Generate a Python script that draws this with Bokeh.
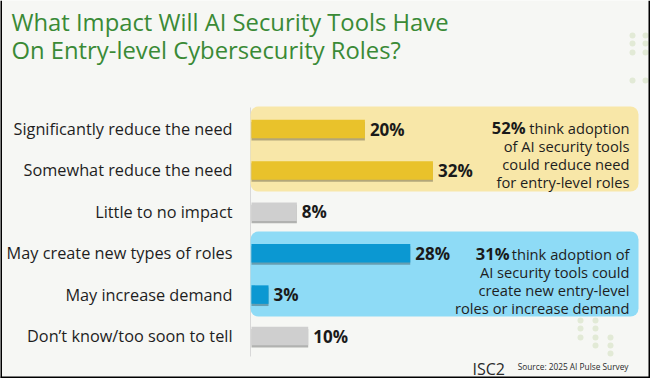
from bokeh.plotting import figure
from bokeh.models import Range1d, BoxAnnotation, ColumnDataSource
from bokeh.core.properties import value
from bokeh.embed import file_html
from bokeh.resources import INLINE

# ---- data ----
categories = [
    "Significantly reduce the need",
    "Somewhat reduce the need",
    "Little to no impact",
    "May create new types of roles",
    "May increase demand",
    "Don\u2019t know/too soon to tell",
]
percent = [20, 32, 8, 28, 3, 10]
groups = ["reduce", "reduce", "neutral", "increase", "increase", "neutral"]
title_lines = ["What Impact Will AI Security Tools Have", "On Entry-level Cybersecurity Roles?"]
reduce_total = "52%"
reduce_text = ["think adoption", "of AI security tools", "could reduce need", "for entry-level roles"]
increase_total = "31%"
increase_text = ["think adoption of", "AI security tools could", "create new entry-level", "roles or increase demand"]
source_text = "Source: 2025 AI Pulse Survey"
brand = "ISC2"

# ---- styling / layout ----
W, H = 650, 378
PX_PER_PCT = 5.67
X0_PX = 251          # pixel of 0% in figure
ROW_PX = 41.4
ROW0_PX = 128.5      # pixel of first row center from top
FONT = "Open Sans"
colors = {"reduce": "#e9c22b", "neutral": "#cfcfcf", "increase": "#0b98d2"}

x_start = -X0_PX / PX_PER_PCT
x_end = (W - X0_PX) / PX_PER_PCT
y_top = -ROW0_PX / ROW_PX
y_bottom = (H - ROW0_PX) / ROW_PX

def px_x(px):
    return x_start + px / PX_PER_PCT

def px_y(px):
    return y_top + px / ROW_PX

p = figure(width=W, height=H, output_backend="svg", toolbar_location=None,
           x_range=Range1d(x_start, x_end), y_range=Range1d(y_bottom, y_top),
           min_border=0, background_fill_color="#f6f7f4", border_fill_color="#f6f7f4")
p.axis.visible = False
p.grid.visible = False
p.outline_line_color = None

rows = list(range(len(categories)))

# faint decorative dots (background ornament)
deco_x = [632, 645, 632, 645, 632, 645, 632, 645, 580, 595, 580, 595, 580, 595, 610, 610, 595, 610]
deco_y = [35, 35, 43, 43, 52, 52, 80, 80, 320, 320, 328, 328, 337, 337, 337, 345, 345, 353]
p.scatter(x=[px_x(v) for v in deco_x], y=[px_y(v) for v in deco_y], size=6,
          fill_color="#e2ead6", line_color=None, level="underlay")

# vertical base line
p.segment(x0=[px_x(250)], y0=[px_y(107)], x1=[px_x(250)], y1=[px_y(356)],
          line_color="#d8d8d8", line_width=1, level="underlay")

# highlight boxes
box_left = px_x(250)
box_right = px_x(638)
p.add_layout(BoxAnnotation(left=box_left, right=box_right, top=px_y(106), bottom=px_y(191),
                           fill_color="#f8e7a8", fill_alpha=1, line_color=None,
                           border_radius=8, level="underlay"))
p.add_layout(BoxAnnotation(left=box_left, right=box_right, top=px_y(231), bottom=px_y(316),
                           fill_color="#8edbf6", fill_alpha=1, line_color=None,
                           border_radius=8, level="underlay"))

src = ColumnDataSource(dict(
    y=rows, ys=[r + 2.2 / ROW_PX for r in rows], v=percent,
    c=[colors[g] for g in groups], cat=categories,
    lab=[f"{v}%" for v in percent],
))

bar_h = 18.5 / ROW_PX
# shadow
p.hbar(y="ys", right="v", left=0, height=bar_h, source=src, fill_color="#000000",
       fill_alpha=0.28, line_color=None)
p.hbar(y="y", right="v", left=0, height=bar_h, source=src, fill_color="c", line_color=None)

# category labels
p.text(x=0, y="y", text="cat", source=src, x_offset=-19, text_align="right",
       text_baseline="middle", text_font=value(FONT), text_font_size="16.3px",
       text_color="#1e1e1e")
# value labels
p.text(x="v", y="y", text="lab", source=src, x_offset=5, text_align="left",
       text_baseline="middle", text_font=value(FONT), text_font_size="17px",
       text_font_style="bold", text_color="#1a1a1a")

# title
p.text(x=[px_x(11)] * 2, y=[px_y(5), px_y(33)], text=title_lines, text_align="left",
       text_baseline="top", text_font=value(FONT), text_font_size="23.8px",
       text_color="#3a8a36")

# annotations
def annotate(total, lines, first_px, bold_gap_px):
    ys = [px_y(first_px + 18.3 * i) for i in range(len(lines))]
    p.text(x=[box_right] * len(lines), y=ys, text=lines, x_offset=-9, text_align="right",
           text_baseline="alphabetic", text_font=value(FONT), text_font_size="14.7px",
           text_color="#1e1e1e")
    p.text(x=[box_right], y=[ys[0]], text=[total], x_offset=-9 - bold_gap_px,
           text_align="right", text_baseline="alphabetic", text_font=value(FONT),
           text_font_size="16.5px", text_font_style="bold", text_color="#1a1a1a")

annotate(reduce_total, reduce_text, 127, 104)
annotate(increase_total, increase_text, 253, 120)

# footer
p.text(x=[px_x(472)], y=[px_y(368)], text=[brand], text_align="left", text_baseline="alphabetic",
       text_font=value(FONT), text_font_size="16px", text_color="#2a2a2a")
p.text(x=[px_x(628)], y=[px_y(366)], text=[source_text], text_align="right",
       text_baseline="alphabetic", text_font=value(FONT), text_font_size="8.3px",
       text_color="#2a2a2a")

# image frame (left, bottom, right edges)
p.segment(x0=[px_x(0.5), px_x(0), px_x(649)], y0=[px_y(0), px_y(377), px_y(0)],
          x1=[px_x(0.5), px_x(650), px_x(649)], y1=[px_y(378), px_y(377), px_y(378)],
          line_color="#000000", line_width=2)

open("out.html", "w").write(file_html(p, INLINE))
